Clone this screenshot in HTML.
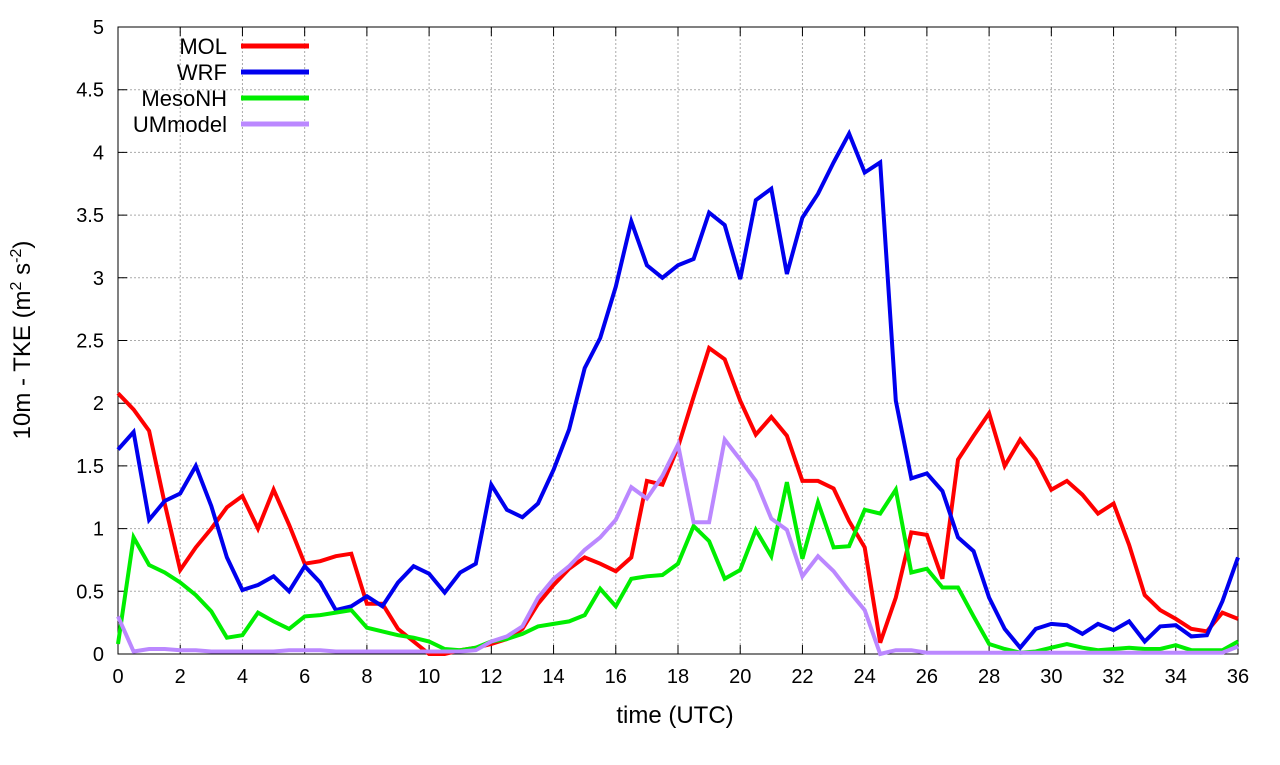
<!DOCTYPE html>
<html><head><meta charset="utf-8"><style>
body{margin:0;background:#fff}
svg text{font-family:"Liberation Sans",sans-serif;fill:#000}
</style></head><body>
<svg id="chart" width="1280" height="760" xmlns="http://www.w3.org/2000/svg">
<g id="grid"></g>
<g id="axes"></g>
<g id="series"></g>
<g id="legend"></g>
<text x="675" y="723" font-size="24" text-anchor="middle">time (UTC)</text>
<text transform="translate(30,340) rotate(-90)" font-size="24" text-anchor="middle">10m - TKE (m<tspan font-size="16" dy="-9">2</tspan><tspan dy="9"> s</tspan><tspan font-size="16" dy="-9">-2</tspan><tspan dy="9">)</tspan></text>
</svg>
<script>
const xTicks=[0,2,4,6,8,10,12,14,16,18,20,22,24,26,28,30,32,34,36];
const yTicks=[0,0.5,1,1.5,2,2.5,3,3.5,4,4.5,5];
const yTickLabels=["0","0.5","1","1.5","2","2.5","3","3.5","4","4.5","5"];
const seriesNames=["MOL","WRF","MesoNH","UMmodel"];
const seriesColors=["#ff0000","#0000ee","#00ee00","#bb88ff"];
const mol=[2.08,1.95,1.78,1.2,0.67,0.85,1.0,1.17,1.26,1.0,1.31,1.03,0.72,0.74,0.78,0.8,0.4,0.4,0.2,0.1,0.0,0.0,0.03,0.05,0.08,0.12,0.2,0.4,0.55,0.68,0.77,0.72,0.66,0.77,1.38,1.35,1.65,2.05,2.44,2.35,2.02,1.75,1.89,1.74,1.38,1.38,1.32,1.06,0.85,0.09,0.45,0.97,0.95,0.6,1.55,1.74,1.92,1.5,1.71,1.55,1.31,1.38,1.27,1.12,1.2,0.87,0.47,0.35,0.28,0.2,0.18,0.33,0.28];
const wrf=[1.63,1.77,1.07,1.22,1.28,1.5,1.18,0.77,0.51,0.55,0.62,0.5,0.7,0.57,0.35,0.38,0.46,0.38,0.57,0.7,0.64,0.49,0.65,0.72,1.35,1.15,1.09,1.2,1.47,1.79,2.28,2.52,2.93,3.45,3.1,3.0,3.1,3.15,3.52,3.42,2.99,3.62,3.71,3.03,3.48,3.67,3.92,4.15,3.84,3.92,2.02,1.4,1.44,1.3,0.93,0.82,0.45,0.2,0.05,0.2,0.24,0.23,0.16,0.24,0.19,0.26,0.1,0.22,0.23,0.14,0.15,0.42,0.77];
const mesonh=[0.08,0.93,0.71,0.65,0.57,0.47,0.34,0.13,0.15,0.33,0.26,0.2,0.3,0.31,0.33,0.35,0.21,0.18,0.15,0.13,0.1,0.04,0.03,0.05,0.1,0.12,0.16,0.22,0.24,0.26,0.31,0.52,0.38,0.6,0.62,0.63,0.72,1.02,0.9,0.6,0.67,0.99,0.78,1.37,0.76,1.21,0.85,0.86,1.15,1.12,1.31,0.65,0.68,0.53,0.53,0.3,0.08,0.04,0.01,0.02,0.05,0.08,0.05,0.03,0.04,0.05,0.04,0.04,0.07,0.03,0.03,0.03,0.1];
const um=[0.3,0.02,0.04,0.04,0.03,0.03,0.02,0.02,0.02,0.02,0.02,0.03,0.03,0.03,0.02,0.02,0.02,0.02,0.02,0.02,0.02,0.02,0.02,0.03,0.1,0.14,0.22,0.45,0.6,0.7,0.83,0.93,1.07,1.33,1.24,1.42,1.67,1.05,1.05,1.71,1.55,1.38,1.08,0.99,0.62,0.78,0.66,0.5,0.35,0.0,0.03,0.03,0.01,0.01,0.01,0.01,0.01,0.01,0.01,0.01,0.01,0.01,0.01,0.01,0.01,0.01,0.01,0.01,0.01,0.01,0.01,0.01,0.06];
const tStep=0.5;
const X0=118,X1=1238,Y0=654,Y1=27;
const xs=v=>X0+(X1-X0)*v/36;
const ys=v=>Y0-(Y0-Y1)*v/5;
const NS="http://www.w3.org/2000/svg";
function mk(t,a,p){const e=document.createElementNS(NS,t);for(const k in a)e.setAttribute(k,a[k]);p.appendChild(e);return e;}
const grid=document.getElementById('grid'),axes=document.getElementById('axes'),ser=document.getElementById('series'),leg=document.getElementById('legend');
xTicks.forEach(v=>{
 const l=mk('line',{x1:xs(v),x2:xs(v),y1:Y1,y2:Y0,stroke:'#aaa','stroke-dasharray':'2,2','stroke-width':1},grid);
 
 
 const tk=mk('path',{d:`M${xs(v)},${Y0}v-9M${xs(v)},${Y1}v9`,stroke:'#000','stroke-width':1},axes);
 
 
 const t=mk('text',{x:xs(v),y:Y0+29,'font-size':20,'text-anchor':'middle'},axes);t.textContent=v;
 
 
});
yTicks.forEach((v,i)=>{
 const l=mk('line',{x1:X0,x2:X1,y1:ys(v),y2:ys(v),stroke:'#aaa','stroke-dasharray':'2,2','stroke-width':1},grid);
 
 
 const tk=mk('path',{d:`M${X0},${ys(v)}h9M${X1},${ys(v)}h-9`,stroke:'#000','stroke-width':1},axes);
 
 
 const t=mk('text',{x:X0-14,y:ys(v)+7,'font-size':20,'text-anchor':'end'},axes);t.textContent=yTickLabels[i];
 
 
});
const fr=mk('rect',{x:X0,y:Y1,width:X1-X0,height:Y0-Y1,fill:'none',stroke:'#000','stroke-width':1},axes);


const all=[mol,wrf,mesonh,um];
all.forEach((d,si)=>{
 const pts=d.map((v,i)=>xs(i*tStep).toFixed(1)+','+ys(v).toFixed(1)).join(' ');
 const p=mk('polyline',{points:pts,fill:'none',stroke:seriesColors[si],'stroke-width':4,'stroke-linejoin':'miter'},ser);
 
 
 const ly=46+si*26;
 const t=mk('text',{x:227,y:ly+8,'font-size':22,'text-anchor':'end'},leg);t.textContent=seriesNames[si];
 
 
 const l=mk('line',{x1:241,x2:309,y1:ly,y2:ly,stroke:seriesColors[si],'stroke-width':5},leg);
 
 
});
</script>
</body></html>
